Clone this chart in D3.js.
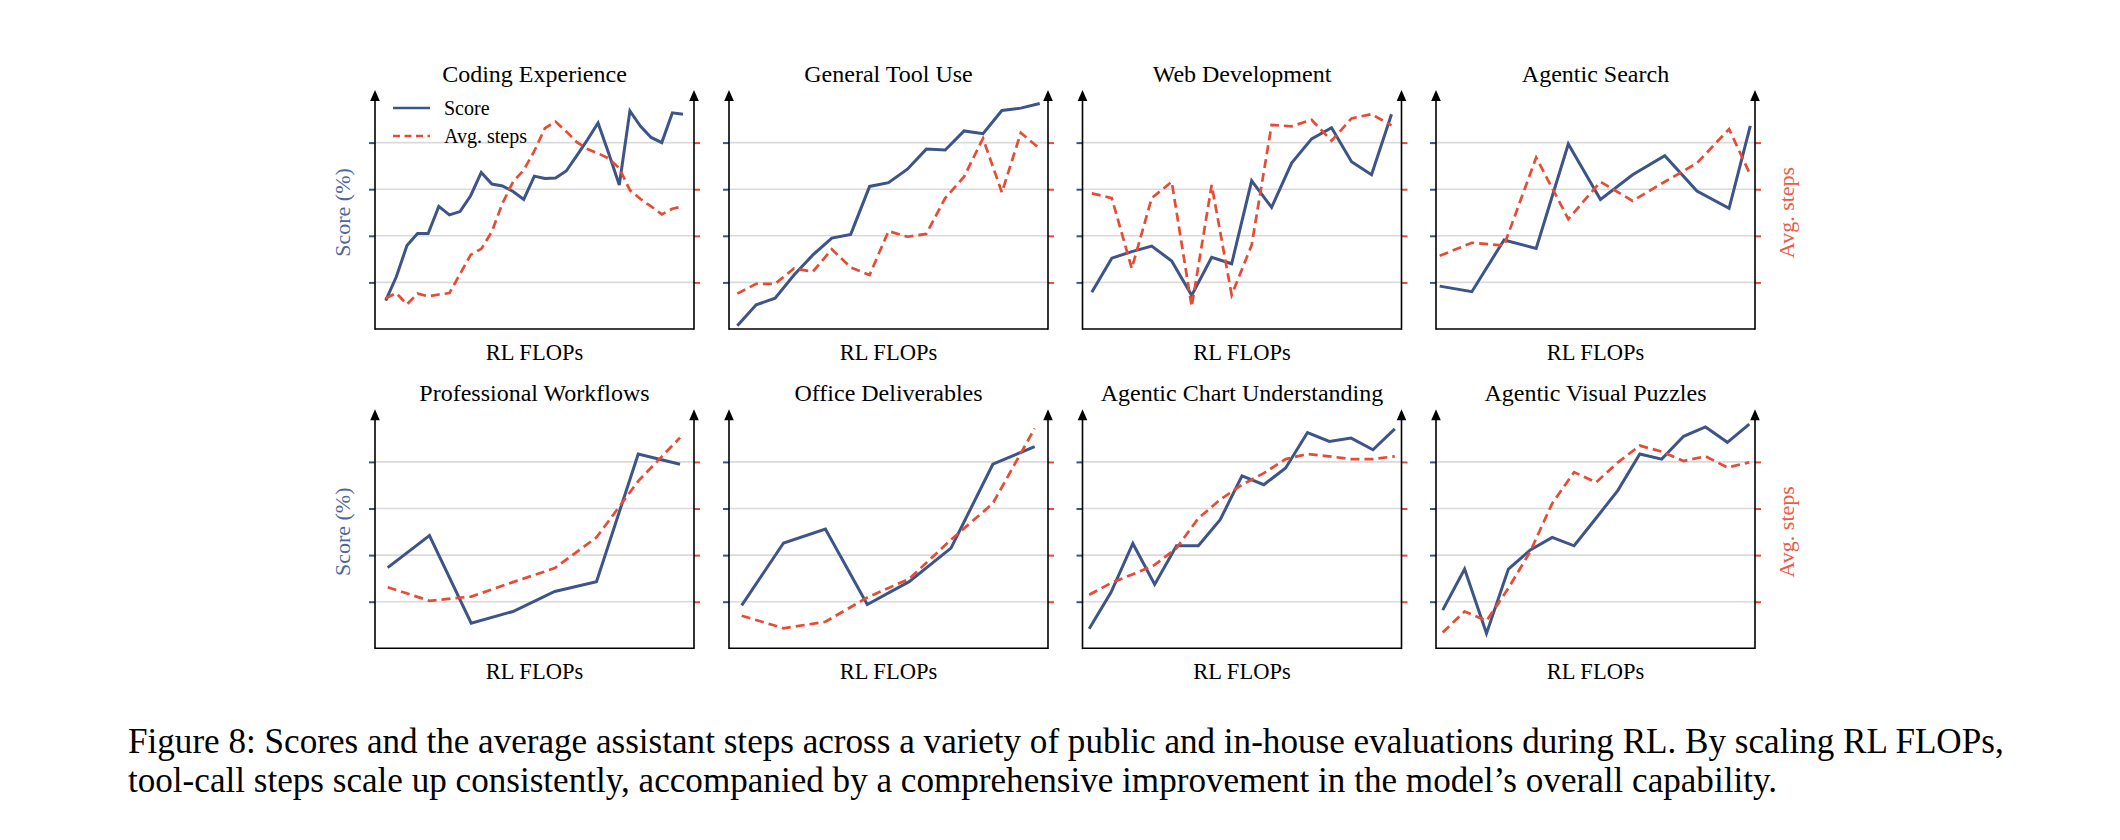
<!DOCTYPE html>
<html><head><meta charset="utf-8">
<script src="https://cdn.jsdelivr.net/npm/d3@7"></script>
<style>html,body{margin:0;padding:0;background:#fff;} svg{display:block;}</style>
</head><body>
<svg id="chart" width="2120" height="840"></svg>
<script>
// ---------------- DATA ----------------
const panelTitles = ["Coding Experience", "General Tool Use", "Web Development", "Agentic Search",
  "Professional Workflows", "Office Deliverables", "Agentic Chart Understanding", "Agentic Visual Puzzles"];
const xLabel = "RL FLOPs";
const leftLabel = "Score (%)";
const rightLabel = "Avg. steps";
const legendLabels = ["Score", "Avg. steps"];
const gridLevels = [1, 2, 3, 4];

const codingX = [0,1,2,3,4,5,6,7,8,9,10,11,12,13,14,15,16,17,18,19,20,21,22,23,24,25,26,27,28];
const codingScore = [0.61,1.12,1.79,2.05,2.05,2.63,2.45,2.52,2.86,3.36,3.11,3.07,2.95,2.78,3.28,3.23,3.24,3.39,3.72,4.06,4.42,3.77,3.09,4.68,4.35,4.11,4.00,4.64,4.61];
const codingSteps = [0.66,0.77,0.53,0.76,0.70,0.74,0.77,1.18,1.59,1.72,2.09,2.70,3.16,3.41,3.82,4.31,4.45,4.24,4.01,3.86,3.77,3.66,3.45,2.98,2.79,2.63,2.46,2.58,2.63];

const toolX = [0,1,2,3,4,5,6,7,8,9,10,11,12,13,14,15,16];
const toolScore = [0.07,0.52,0.66,1.16,1.59,1.95,2.03,3.06,3.14,3.43,3.86,3.84,4.25,4.19,4.69,4.74,4.84];
const toolSteps = [0.76,0.97,0.97,1.30,1.23,1.71,1.32,1.16,2.10,1.98,2.04,2.81,3.27,4.09,2.93,4.21,3.87];

const webX = [0,1,2,3,4,5,6,7,8,9,10,11,12,13,14,15];
const webScore = [0.79,1.52,1.66,1.78,1.46,0.72,1.54,1.40,3.18,2.61,3.56,4.08,4.32,3.59,3.31,4.61];
const webSteps = [2.91,2.81,1.30,2.81,3.16,0.48,3.09,0.73,1.80,4.38,4.35,4.49,4.04,4.52,4.61,4.37];

const searchX = [0,1,2,3,4,5,6,7,8,9,9.66];
const searchScore = [0.92,0.80,1.91,1.73,3.97,2.78,3.31,3.72,2.96,2.59,4.36];
const searchSteps = [1.57,1.85,1.79,3.68,2.36,3.16,2.75,3.16,3.56,4.29,3.31];

const workflowX = [0,1,2,3,4,5,6,7];
const workflowScore = [1.73,2.42,0.54,0.79,1.22,1.43,4.17,3.95];
const workflowSteps = [1.31,1.02,1.11,1.42,1.72,2.38,3.59,4.52];

const officeX = [0,1,2,3,4,5,6,7];
const officeScore = [0.92,2.26,2.56,0.94,1.43,2.15,3.95,4.33];
const officeSteps = [0.70,0.43,0.57,1.09,1.49,2.33,3.11,4.72];

const chartX = [0,1,2,3,4,5,6,7,8,9,10,11,12,13,14];
const chartScore = [0.42,1.20,2.25,1.37,2.20,2.20,2.76,3.70,3.51,3.87,4.63,4.44,4.51,4.26,4.71];
const chartSteps = [1.15,1.40,1.59,1.79,2.15,2.79,3.19,3.51,3.76,4.06,4.17,4.12,4.06,4.06,4.12];

const puzzleX = [0,1,2,3,4,5,6,7,8,9,10,11,12,13,14];
const puzzleScore = [0.82,1.70,0.32,1.70,2.11,2.38,2.20,2.79,3.39,4.17,4.06,4.55,4.75,4.42,4.81];
const puzzleSteps = [0.34,0.79,0.59,1.29,2.08,3.11,3.78,3.56,3.99,4.35,4.22,4.02,4.12,3.88,3.99];

const captionLines = [
  "Figure 8: Scores and the average assistant steps across a variety of public and in-house evaluations during RL. By scaling RL FLOPs,",
  "tool-call steps scale up consistently, accompanied by a comprehensive improvement in the model\u2019s overall capability."
];

// ---------------- LAYOUT / STYLE ----------------
const BLUE = "#3C5488", RED = "#E64B35", GRID = "#dadada";
const SERIF = "'Liberation Serif','Times New Roman',serif";
const colLeft = [375, 729, 1082.5, 1436];
const panelW = 319;
const rowBottom = [329, 648.3];
const unit = 46.6;

const series = [
  {x: codingX, score: codingScore, steps: codingSteps, pad: [10.7, 11]},
  {x: toolX, score: toolScore, steps: toolSteps, pad: [8.3, 8.3]},
  {x: webX, score: webScore, steps: webSteps, pad: [9.3, 10]},
  {x: searchX, score: searchScore, steps: searchSteps, pad: [3.7, 4.7]},
  {x: workflowX, score: workflowScore, steps: workflowSteps, pad: [12.7, 14]},
  {x: officeX, score: officeScore, steps: officeSteps, pad: [12.7, 13.3]},
  {x: chartX, score: chartScore, steps: chartSteps, pad: [6.7, 6.7]},
  {x: puzzleX, score: puzzleScore, steps: puzzleSteps, pad: [6.7, 5.7]}
];

const svg = d3.select("#chart");
svg.append("rect").attr("width", 2120).attr("height", 840).attr("fill", "#fff");

series.forEach((s, i) => {
  const row = Math.floor(i / 4), col = i % 4;
  const x0 = colLeft[col], x1 = x0 + panelW, bottom = rowBottom[row];
  const g = svg.append("g");

  const x = d3.scaleLinear().domain(d3.extent(s.x)).range([x0 + s.pad[0], x1 - s.pad[1]]);
  const yScore = d3.scaleLinear().domain([0, 4]).range([bottom, bottom - 4 * unit]);
  const ySteps = d3.scaleLinear().domain([0, 4]).range([bottom, bottom - 4 * unit]);

  // grid
  g.selectAll(".grid").data(gridLevels).enter().append("line")
    .attr("x1", x0).attr("x2", x1)
    .attr("y1", d => yScore(d)).attr("y2", d => yScore(d))
    .attr("stroke", GRID).attr("stroke-width", 1.6);

  // tick axes
  const la = g.append("g").attr("transform", `translate(${x0},0)`)
    .call(d3.axisLeft(yScore).tickValues(gridLevels).tickSize(6).tickFormat(() => ""));
  la.select(".domain").remove();
  la.selectAll(".tick line").attr("stroke", BLUE).attr("stroke-width", 2);
  const ra = g.append("g").attr("transform", `translate(${x1},0)`)
    .call(d3.axisRight(ySteps).tickValues(gridLevels).tickSize(6).tickFormat(() => ""));
  ra.select(".domain").remove();
  ra.selectAll(".tick line").attr("stroke", RED).attr("stroke-width", 2);

  // axis lines with arrows
  const lineTop = bottom - 229, tip = bottom - 239;
  [x0, x1].forEach(ax => {
    g.append("line").attr("x1", ax).attr("x2", ax).attr("y1", bottom + 0.8).attr("y2", lineTop)
      .attr("stroke", "#000").attr("stroke-width", 1.6);
    g.append("path").attr("d", `M${ax - 4.8},${lineTop + 1}L${ax + 4.8},${lineTop + 1}L${ax},${tip}Z`).attr("fill", "#000");
  });
  g.append("line").attr("x1", x0).attr("x2", x1).attr("y1", bottom).attr("y2", bottom)
    .attr("stroke", "#000").attr("stroke-width", 1.6);

  // lines
  const idx = d3.range(s.x.length);
  g.append("path").datum(idx)
    .attr("d", d3.line().x(k => x(s.x[k])).y(k => yScore(s.score[k])))
    .attr("fill", "none").attr("stroke", BLUE).attr("stroke-width", 3.0).attr("stroke-linejoin", "miter");
  g.append("path").datum(idx)
    .attr("d", d3.line().x(k => x(s.x[k])).y(k => ySteps(s.steps[k])))
    .attr("fill", "none").attr("stroke", RED).attr("stroke-width", 2.7)
    .attr("stroke-dasharray", "9,5");

  // title & x label
  g.append("text").attr("x", (x0 + x1) / 2).attr("y", bottom - 247)
    .attr("text-anchor", "middle").attr("font-family", SERIF).attr("font-size", 24)
    .attr("fill", "#000").text(panelTitles[i]);
  g.append("text").attr("x", (x0 + x1) / 2).attr("y", bottom + 31)
    .attr("text-anchor", "middle").attr("font-family", SERIF).attr("font-size", 22.5)
    .attr("fill", "#000").text(xLabel);

  if (col === 0) {
    g.append("text").attr("transform", `translate(${x0 - 33},${bottom - 116.5}) rotate(-90)`)
      .attr("text-anchor", "middle").attr("dy", "0.35em").attr("font-family", SERIF).attr("font-size", 22)
      .attr("fill", "#4d66a0").text(leftLabel);
  }
  if (col === 3) {
    g.append("text").attr("transform", `translate(${x1 + 31},${bottom - 116.5}) rotate(-90)`)
      .attr("text-anchor", "middle").attr("dy", "0.35em").attr("font-family", SERIF).attr("font-size", 22)
      .attr("fill", "#ea5a45").text(rightLabel);
  }

  if (i === 0) {
    const lg = g.append("g");
    const items = [{c: BLUE, dash: null, y: bottom - 221}, {c: RED, dash: "7,4.5", y: bottom - 193}];
    items.forEach((it, j) => {
      lg.append("line").attr("x1", x0 + 18).attr("x2", x0 + 55).attr("y1", it.y).attr("y2", it.y)
        .attr("stroke", it.c).attr("stroke-width", 2.6).attr("stroke-dasharray", it.dash);
      lg.append("text").attr("x", x0 + 69).attr("y", it.y + 7)
        .attr("font-family", SERIF).attr("font-size", 20).attr("fill", "#000").text(legendLabels[j]);
    });
  }
});

// caption
const capY = [753, 792];
const capTexts = captionLines.map((t, j) => svg.append("text").attr("x", 128).attr("y", capY[j])
  .attr("font-family", SERIF).attr("font-size", 30).attr("fill", "#000").text(t));
const len = capTexts[0].node().getComputedTextLength();
const fs = 30 * 1876 / len;
capTexts.forEach(t => t.attr("font-size", fs));
</script>
</body></html>
